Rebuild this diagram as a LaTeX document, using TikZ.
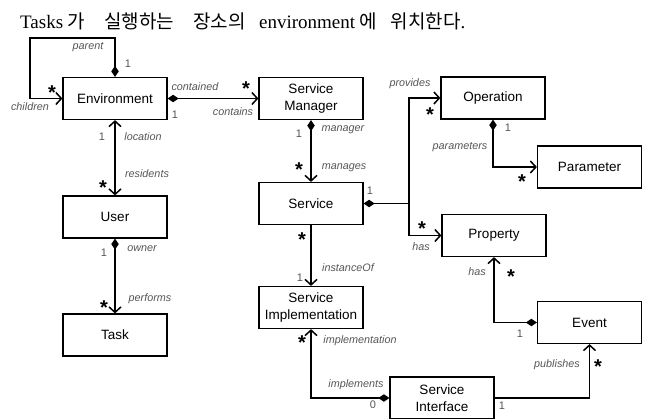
\documentclass[tikz,border=0pt]{standalone}
\usepackage{fontspec}
\setmainfont{Liberation Serif}
\newfontfamily\sansf{Liberation Sans}
\newfontfamily\krf{Noto Sans CJK KR}
\usetikzlibrary{arrows.meta}
\definecolor{lblgray}{RGB}{85,85,85}
\newcommand{\kw}[1]{{\krf #1}}
\tikzset{
  cls/.style={draw, line width=1.2pt, minimum width=104pt, minimum height=42pt,
    align=center, inner sep=1pt, font=\sansf\fontsize{13.5}{17.5}\selectfont},
  link/.style={draw, line width=1.5pt},
  comp/.style={link, arrows={Diamond[length=11pt,width=7.5pt]-Straight Barb[length=5.5pt,width=12pt]}},
  compline/.style={link, arrows={Diamond[length=11pt,width=7.5pt]-}},
  nav/.style={link, arrows={-Straight Barb[length=5.5pt,width=12pt]}},
  bothnav/.style={link, arrows={Straight Barb[length=5.5pt,width=12pt]-Straight Barb[length=5.5pt,width=12pt]}},
  role/.style={inner sep=0pt, text=lblgray, font=\sansf\itshape\fontsize{10.8}{12}\selectfont},
  num/.style={inner sep=0pt, text=lblgray, font=\sansf\fontsize{11}{12}\selectfont},
  many/.style={inner sep=0pt, anchor=base, yshift=-11.5pt, font=\sansf\bfseries\fontsize{20}{20}\selectfont}
}
\begin{document}
\begin{tikzpicture}[x=1pt, y=-1pt]
\useasboundingbox (0,0) rectangle (648,418);

% heading line
\node[anchor=base west, inner sep=0pt, font=\fontsize{19}{22}\selectfont] (title) at (20,28)
  {Tasks \kw{가}\hspace{1em}\kw{실행하는}\hspace{1em}\kw{장소의}\hspace{0.7em}environment \kw{에}\hspace{0.7em}\kw{위치한다}.};

% classes
\node[cls] (env)   at (115,98.5)  {Environment};
\node[cls] (user)  at (115,217)   {User};
\node[cls] (task)  at (115,335)   {Task};
\node[cls] (sm)    at (311,98.5)  {Service\\Manager};
\node[cls] (svc)   at (311,203.5) {Service};
\node[cls] (simpl) at (311,307.5) {Service\\Implementation};
\node[cls] (op)    at (493,98)    {Operation};
\node[cls] (par)   at (589.5,167) {Parameter};
\node[cls] (prop)  at (494,235.5) {Property};
\node[cls] (event) at (589.5,322.5) {Event};
\node[cls] (sif)   at (442,398)   {Service\\Interface};

% bend points
\coordinate (loopR) at (115,38);
\coordinate (loopL) at (30,38);
\coordinate (fork)  at (409,203.5);

% associations
\draw[comp] (env.north) -- (loopR) -- (loopL) |- (env.west);
\draw[comp] (env.east) -- (sm.west);
\draw[bothnav] (env.south) -- (user.north);
\draw[comp] (user.south) -- (task.north);
\draw[comp] (sm.south) -- (svc.north);
\draw[compline] (svc.east) -- (fork);
\draw[nav] (fork) |- (op.west);
\draw[nav] (fork) |- (prop.west);
\draw[comp] (op.south) |- (par.west);
\draw[nav] (svc.south) -- (simpl.north);
\draw[comp] (sif.west) -| (simpl.south);
\draw[comp] (event.west) -| (prop.south);
\draw[nav] (sif.east) -| (event.south);

% role names
\node[role] (rParent)   at (88,47)    {parent};
\node[role] (rChildren) at (30,107)   {children};
\node[role] (rContd)    at (195,87)   {contained};
\node[role] (rContains) at (233,112)  {contains};
\node[role] (rLoc)      at (143,137)  {location};
\node[role] (rRes)      at (147,174)  {residents};
\node[role] (rOwner)    at (142,249)  {owner};
\node[role] (rPerf)     at (150,299)  {performs};
\node[role] (rMgr)      at (343,130)  {manager};
\node[role] (rMng)      at (344,168)  {manages};
\node[role] (rProv)     at (410,84)   {provides};
\node[role] (rParams)   at (460,147)  {parameters};
\node[role] (rHas1)     at (421,247)  {has};
\node[role] (rInst)     at (348,268)  {instanceOf};
\node[role] (rImpl)     at (360,341)  {implementation};
\node[role] (rImpls)    at (356,385)  {implements};
\node[role] (rHas2)     at (477,272)  {has};
\node[role] (rPub)      at (557,365)  {publishes};

% multiplicities
\node[num] (m1)  at (128,64)  {1};
\node[num] (m2)  at (175,115) {1};
\node[num] (m3)  at (102,137) {1};
\node[num] (m4)  at (104,253) {1};
\node[num] (m5)  at (299,134) {1};
\node[num] (m6)  at (508,128) {1};
\node[num] (m7)  at (370,191) {1};
\node[num] (m8)  at (300,278) {1};
\node[num] (m9)  at (373,405) {0};
\node[num] (m10) at (520,334) {1};
\node[num] (m11) at (502,406) {1};

\node[many] (s1)  at (52,88)   {*};
\node[many] (s2)  at (246,84)  {*};
\node[many] (s3)  at (103,183) {*};
\node[many] (s4)  at (104,303) {*};
\node[many] (s5)  at (299,165) {*};
\node[many] (s6)  at (430,110) {*};
\node[many] (s7)  at (522,177) {*};
\node[many] (s8)  at (302,235) {*};
\node[many] (s9)  at (422,224) {*};
\node[many] (s10) at (302,338) {*};
\node[many] (s11) at (511,272) {*};
\node[many] (s12) at (598,362) {*};
\end{tikzpicture}
\end{document}
